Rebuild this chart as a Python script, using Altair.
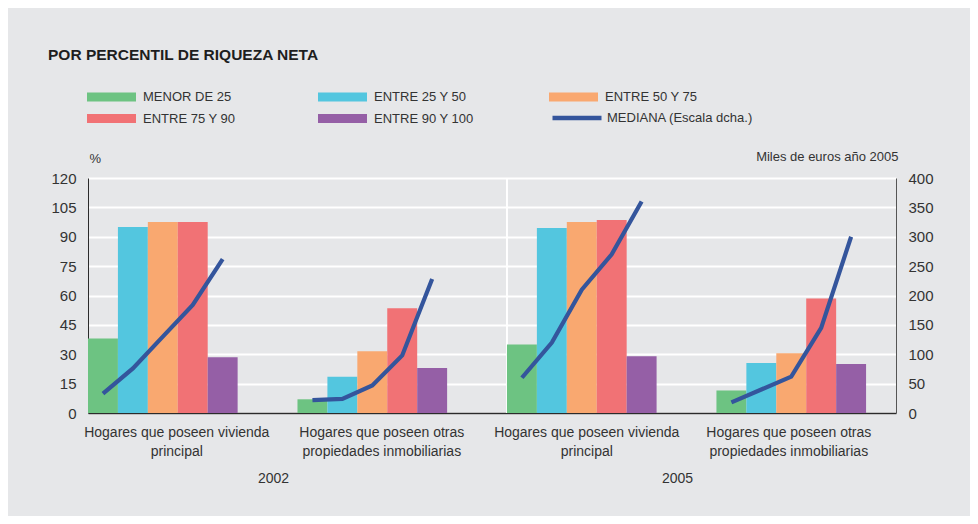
import json
import altair as alt
import pandas as pd

# ---------------- data ----------------
title_text = "POR PERCENTIL DE RIQUEZA NETA"
series = ["MENOR DE 25", "ENTRE 25 Y 50", "ENTRE 50 Y 75", "ENTRE 75 Y 90", "ENTRE 90 Y 100"]
series_colors = ["#6dc382", "#53c6df", "#f9a870", "#f17275", "#955fa6"]
median_label = "MEDIANA (Escala dcha.)"
median_color = "#34559c"

category_lines = [
    ["Hogares que poseen vivienda", "principal"],
    ["Hogares que poseen otras", "propiedades inmobiliarias"],
    ["Hogares que poseen vivienda", "principal"],
    ["Hogares que poseen otras", "propiedades inmobiliarias"],
]
years = ["2002", "2005"]

# % of households (left scale)
pct_viv_2002 = [38.0, 95.0, 97.5, 97.5, 28.5]
pct_otras_2002 = [7.0, 18.5, 31.5, 53.5, 23.0]
pct_viv_2005 = [35.0, 94.5, 97.5, 98.5, 29.0]
pct_otras_2005 = [11.5, 25.5, 30.5, 58.5, 25.0]

# median, thousands of 2005 euros (right scale)
med_viv_2002 = [33, 76, 130, 184, 262]
med_otras_2002 = [22, 24, 47, 98, 228]
med_viv_2005 = [60, 120, 210, 270, 360]
med_otras_2005 = [18, 40, 62, 145, 300]

left_ticks = list(range(0, 121, 15))
right_ticks = list(range(0, 401, 50))
label_pos = [2.95, 9.8, 16.65, 23.4]   # category label centres (in bar slots)
year_pos = [6.2, 19.7]                 # year label centres (in bar slots)

# ---------------- layout helpers ----------------
SLOTS = 7  # 5 bars + 2 empty slots per category
pct_groups = [pct_viv_2002, pct_otras_2002, pct_viv_2005, pct_otras_2005]
med_groups = [med_viv_2002, med_otras_2002, med_viv_2005, med_otras_2005]

rows = []
for g, (p, m) in enumerate(zip(pct_groups, med_groups)):
    for s, name in enumerate(series):
        start = g * SLOTS + s
        rows.append(dict(group=g, serie=name, order=s, x0=start, x1=start + 1,
                         xc=start + 0.5, pct=p[s], med=m[s], med_label=median_label))
df = pd.DataFrame(rows)

year_df = pd.DataFrame({"year": years, "ypos": year_pos})
sep_df = pd.DataFrame({"sep": [2 * SLOTS]})

label_expr = ""
for i, lines in enumerate(category_lines):
    if i < len(category_lines) - 1:
        label_expr += f"datum.value < {(i + 1) * SLOTS} ? {json.dumps(lines)} : "
    else:
        label_expr += json.dumps(lines)

FONT = "Liberation Sans"
TXT = "#333333"

x_scale = alt.Scale(domain=[0, 4 * SLOTS - 1], nice=False, zero=False)
x_axis = alt.Axis(values=label_pos, labelExpr=label_expr, title=None, ticks=False, grid=False,
                  domainColor="#2b2b2b", domainWidth=1.5, labelFontSize=14, labelColor=TXT,
                  labelPadding=12, labelLineHeight=19.5, labelOverlap=False, labelFlush=False,
                  labelFont=FONT, labelLimit=400)

sep = alt.Chart(sep_df).mark_rule(color="white", strokeWidth=2).encode(
    x=alt.X("sep:Q", scale=x_scale, axis=x_axis)
)

bars = alt.Chart(df).mark_rect().encode(
    x=alt.X("x0:Q", scale=x_scale, axis=x_axis),
    x2="x1:Q",
    y=alt.Y("pct:Q", scale=alt.Scale(domain=[0, 120], nice=False),
            axis=alt.Axis(values=left_ticks, title="%", titleAngle=0, titleAlign="left",
                          titleBaseline="alphabetic", titleX=1, titleY=-16, titleFontSize=13,
                          titleFontWeight="normal", titleColor=TXT, titleFont=FONT,
                          ticks=False, grid=True, gridColor="white", gridWidth=2,
                          domainColor="#2b2b2b", domainWidth=1, labelFontSize=15,
                          labelColor=TXT, labelPadding=12, labelFont=FONT)),
    y2=alt.datum(0),
    color=alt.Color("serie:N", scale=alt.Scale(domain=series, range=series_colors),
                    legend=alt.Legend(orient="none", legendX=-1, legendY=-88, columns=3,
                                      direction="horizontal",
                                      title=None, symbolType="M-1,-0.18H1V0.18H-1Z",
                                      symbolSize=2401, symbolStrokeWidth=0, labelFontSize=13,
                                      labelColor=TXT, labelFont=FONT, labelOffset=7,
                                      columnPadding=75, rowPadding=7.5, clipHeight=14,
                                      gridAlign="all", padding=0)),
)

line = alt.Chart(df).mark_line(strokeWidth=4.2).encode(
    x=alt.X("xc:Q", scale=x_scale, axis=x_axis),
    y=alt.Y("med:Q", scale=alt.Scale(domain=[0, 400], nice=False),
            axis=alt.Axis(orient="right", values=right_ticks, title="Miles de euros año 2005",
                          titleAngle=0, titleAlign="right", titleBaseline="alphabetic",
                          titleX=2, titleY=-18, titleFontSize=13, titleFontWeight="normal",
                          titleColor=TXT, titleFont=FONT, ticks=False, grid=False,
                          domainColor="#555555", domainWidth=1, labelFontSize=15,
                          labelColor=TXT, labelPadding=12, labelFont=FONT)),
    detail="group:N",
    order="order:Q",
    stroke=alt.Stroke("med_label:N", scale=alt.Scale(domain=[median_label], range=[median_color]),
                      legend=alt.Legend(orient="none", legendX=462, legendY=-67, title=None,
                                        symbolType="M-1,0H1", symbolSize=2401,
                                        symbolStrokeWidth=4.5, labelFontSize=13, labelColor=TXT,
                                        labelFont=FONT, labelOffset=3, clipHeight=14, padding=0)),
)

year_text = alt.Chart(year_df).mark_text(fontSize=14, color=TXT, font=FONT, baseline="middle").encode(
    x=alt.X("ypos:Q", scale=x_scale, axis=x_axis),
    y=alt.value(301),
    text="year:N",
)

chart = (
    alt.layer(sep, bars, line, year_text)
    .resolve_scale(y="independent")
    .properties(
        width=808, height=235,
        autosize="none",
        padding={"left": 80, "top": 170, "right": 74, "bottom": 103},
        title=alt.TitleParams(title_text, anchor="start", frame="group", fontSize=15.5,
                              fontWeight="bold", color="#1e1e1e", font=FONT, dx=-40, dy=-23),
    )
    .configure(background="#e6e7e9", font=FONT)
    .configure_view(strokeWidth=0)
)

chart.save("out.html", embed_options={"renderer": "svg", "actions": False})
